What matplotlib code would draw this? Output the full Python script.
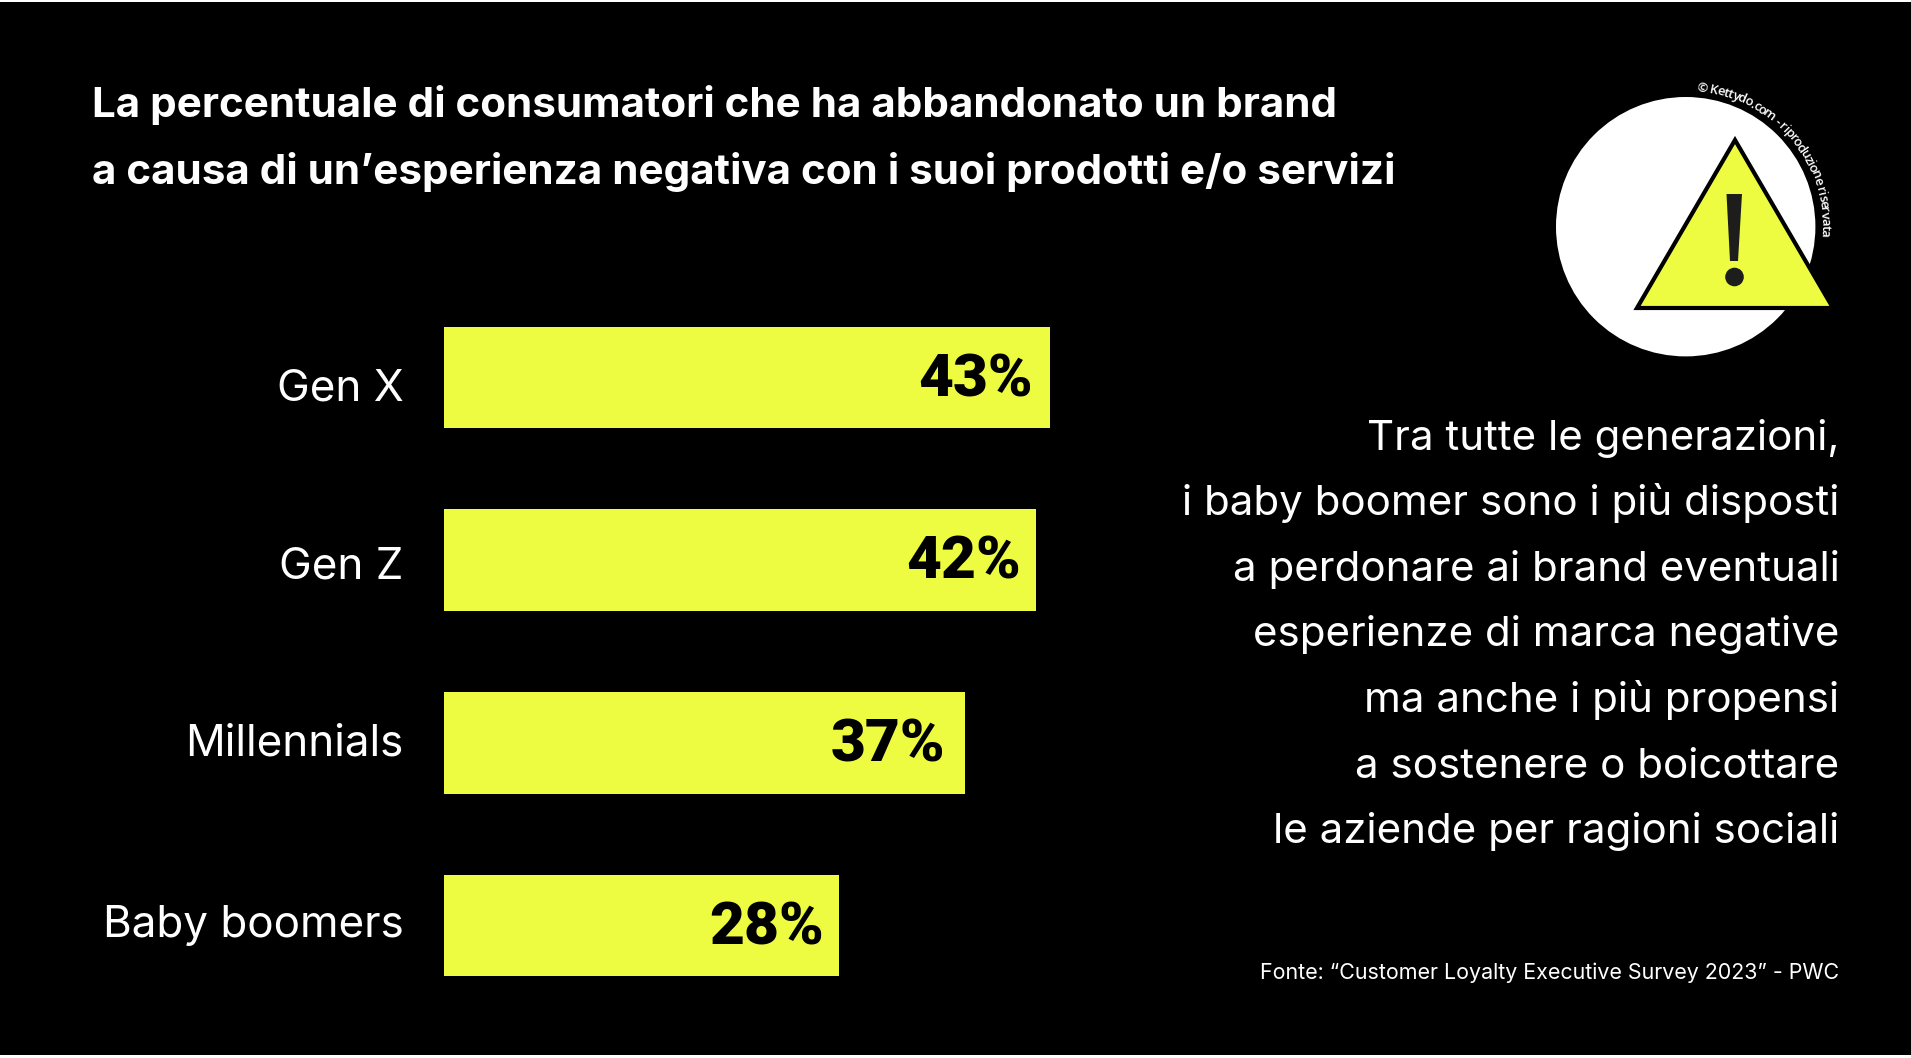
import numpy as np
import matplotlib
matplotlib.use("Agg")
import matplotlib.pyplot as plt
from matplotlib.patches import Circle, Polygon, Rectangle
from matplotlib.textpath import text_to_path
from matplotlib.font_manager import FontProperties

# data
categories = ["Gen X", "Gen Z", "Millennials", "Baby boomers"]
values = [43, 42, 37, 28]
value_labels = ["43%", "42%", "37%", "28%"]

title_lines = [
    "La percentuale di consumatori che ha abbandonato un brand",
    "a causa di un\u2019esperienza negativa con i suoi prodotti e/o servizi",
]
side_lines = [
    "Tra tutte le generazioni,",
    "i baby boomer sono i più disposti",
    "a perdonare ai brand eventuali",
    "esperienze di marca negative",
    "ma anche i più propensi",
    "a sostenere o boicottare",
    "le aziende per ragioni sociali",
]
source_text = "Fonte: \u201cCustomer Loyalty Executive Survey 2023\u201d - PWC"
credit_text = "© Kettydo.com - riproduzione riservata"

YELLOW = "#edfc40"
W, H = 1911, 1058

plt.rcParams["font.family"] = ["Inter", "DejaVu Sans"]

fig = plt.figure(figsize=(W / 100, H / 100), dpi=100, facecolor="white")

# overlay in pixel coordinates for background, texts and the icon
bg = fig.add_axes([0, 0, 1, 1], zorder=0)
bg.set_xlim(0, W)
bg.set_ylim(H, 0)
bg.axis("off")
bg.add_patch(Rectangle((0, 2), W, 1053, color="black", lw=0))

# bars: 14.09 px for each percent point, rows 182.8 px apart
ax = fig.add_axes([444 / W, 1 - 1017 / H, 14.09 * 45 / W, 731 / H], zorder=1)
ax.patch.set_alpha(0)
ypos = np.arange(len(categories))
ax.barh(ypos, values, height=0.556, color=YELLOW)
ax.set_xlim(0, 45)
ax.set_ylim(3.5, -0.5)
ax.axis("off")

# the labels in the original do not sit exactly on the bar centres
label_nudge = [-12, -7, -1, 0]
value_nudge = [0, 1, -2.6, 1.8]
for y, cat, val, lab, nudge, vn in zip(ypos, categories, values, value_labels, label_nudge, value_nudge):
    ax.annotate(cat, (0, y), xytext=(-29, nudge * 0.72), textcoords="offset points",
                ha="right", va="center", color="white", fontsize=31.7, fontweight="normal")
    ax.annotate(lab, (val, y), xytext=(-12 + vn, -2), textcoords="offset points",
                ha="right", va="center", color="black", fontsize=43.5, fontweight="black",
                family="Roboto")

for line, yb in zip(title_lines, [117, 184]):
    bg.text(92, yb, line, color="white", fontsize=30.35, fontweight="bold", va="baseline")

for i, line in enumerate(side_lines):
    bg.text(1839.5, 449.5 + i * 65.6, line, color="white", fontsize=30.3, fontweight="normal",
            ha="right", va="baseline")

bg.text(1839.5, 979, source_text, color="white", fontsize=15.45, fontweight="normal",
        ha="right", va="baseline")

# warning icon
cx, cy, r = 1685.7, 226.7, 129.7
bg.add_patch(Circle((cx, cy), r, color="white", lw=0))
bg.add_patch(Polygon([(1735, 140), (1637, 308), (1833, 308)], closed=True,
                     facecolor=YELLOW, edgecolor="black", lw=3, joinstyle="miter"))
bg.add_patch(Polygon([(1726.5, 194), (1742, 194), (1738, 261), (1730, 261)],
                     closed=True, color="#1d1d1b", lw=0))
bg.add_patch(Circle((1734.5, 277), 9.3, color="#1d1d1b", lw=0))

# credit text bent along the circle, one character at a time
fp = FontProperties(family="Open Sans", size=9.4, weight=600)


def text_w(s):
    return text_to_path.get_text_width_height_descent(s, fp, False)[0] * 100 / 72


widths = [text_w("n" + c + "n") - text_w("nn") for c in credit_text]
base_r = 141
ang = np.radians(5)
step = (np.radians(94) - ang) / (sum(widths) / base_r)
for c, w_px in zip(credit_text, widths):
    da = w_px / base_r * step
    mid = ang + da / 2
    bg.text(cx + base_r * np.sin(mid), cy - base_r * np.cos(mid), c,
            color="white", fontproperties=fp, rotation=-np.degrees(mid),
            rotation_mode="anchor", ha="center", va="center_baseline")
    ang += da

fig.savefig("out.png", dpi=100, facecolor=fig.get_facecolor())
